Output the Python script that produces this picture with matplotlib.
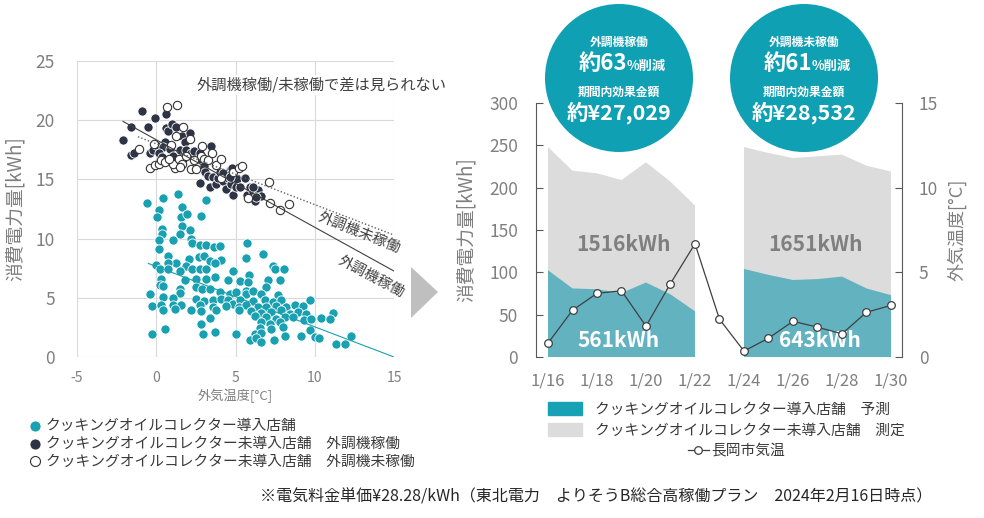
import numpy as np
import matplotlib
matplotlib.use('Agg')
import matplotlib.pyplot as plt
from matplotlib.patches import Circle, Polygon, Patch

plt.rcParams['font.family'] = ['Noto Sans CJK JP', 'DejaVu Sans']
plt.rcParams['axes.unicode_minus'] = False

# --- left: daily consumption [kWh] vs outdoor temperature [C] ---
teal_pts = [
    (-0.58, 13.0), (0.43, 13.45), (1.39, 13.75), (3.16, 13.3), (0.17, 12.45), (1.65, 12.7),
    (0.05, 11.8), (1.58, 11.8), (1.94, 12.1), (2.84, 11.9), (0.36, 10.85), (1.65, 11.1),
    (0.36, 10.4), (1.48, 10.4), (2.15, 10.7), (0.17, 9.9), (1.06, 9.85), (2.21, 10.0),
    (2.28, 9.6), (2.74, 9.5), (3.16, 9.5), (3.64, 9.3), (4.0, 9.4), (5.72, 9.65),
    (0.17, 9.15), (6.73, 8.67), (5.68, 8.4), (0.74, 8.5), (1.27, 7.95), (2.07, 8.3),
    (2.7, 8.45), (3.0, 8.5), (3.37, 8.15), (4.1, 8.2), (3.68, 7.9), (0.0, 7.8),
    (0.74, 7.9), (0.22, 7.4), (0.74, 7.45), (1.9, 7.65), (2.28, 7.45), (2.74, 7.4),
    (3.16, 7.45), (1.48, 7.3), (4.84, 7.25), (7.37, 7.65), (7.48, 7.45), (8.04, 7.45),
    (5.85, 6.9), (7.8, 6.5), (0.32, 6.6), (1.79, 6.5), (2.53, 6.6), (3.16, 6.55),
    (3.68, 6.75), (4.53, 6.5), (5.26, 6.4), (5.79, 6.35), (7.05, 6.5), (0.22, 6.05),
    (0.43, 5.97), (2.53, 5.9), (2.9, 5.77), (3.37, 5.77), (1.48, 5.77), (6.94, 5.9),
    (5.68, 5.6), (-0.37, 5.35), (1.48, 5.4), (4.0, 5.5), (4.63, 5.35), (5.05, 5.5),
    (5.68, 5.35), (6.1, 5.57), (6.62, 5.3), (7.67, 5.2), (0.43, 5.07), (1.06, 5.0),
    (2.53, 4.93), (3.0, 4.73), (3.58, 4.84), (4.1, 4.93), (4.53, 4.78), (4.84, 4.5),
    (5.26, 4.78), (6.1, 4.73), (6.84, 4.78), (7.37, 4.65), (7.9, 4.78), (9.68, 4.78),
    (-0.25, 4.28), (0.32, 4.36), (1.06, 4.36), (1.58, 4.42), (2.74, 4.36), (3.58, 4.22),
    (4.42, 4.28), (5.22, 4.22), (5.68, 4.36), (6.42, 4.22), (6.94, 4.22), (7.58, 4.28),
    (8.2, 4.22), (8.73, 4.36), (9.26, 4.28), (0.43, 3.94), (1.16, 4.08), (2.21, 4.0),
    (2.84, 3.89), (3.79, 3.94), (5.22, 4.0), (6.0, 3.89), (6.64, 3.72), (7.26, 3.8),
    (7.9, 3.94), (8.42, 3.66), (8.94, 3.8), (9.47, 3.66), (11.15, 3.72), (6.2, 3.43),
    (6.94, 3.38), (7.58, 3.24), (8.1, 3.38), (8.63, 3.38), (9.3, 3.1), (9.78, 3.24),
    (10.4, 3.32), (10.95, 3.24), (3.37, 3.32), (6.64, 2.96), (7.16, 2.82), (7.79, 2.96),
    (2.84, 2.82), (6.52, 2.48), (7.26, 2.39), (7.99, 2.53), (0.53, 2.39), (9.68, 2.25),
    (2.95, 1.97), (3.73, 2.11), (5.05, 1.91), (6.2, 1.91), (6.62, 2.03), (8.1, 1.75),
    (9.15, 1.75), (10.04, 1.69), (12.3, 1.75), (-0.25, 1.91), (5.9, 1.46), (6.31, 1.63),
    (6.62, 1.27), (7.4, 1.41), (10.27, 1.6), (11.36, 1.07), (11.93, 1.07),
]
dark_pts = [
    (-2.1, 18.36), (-1.6, 19.4), (-1.57, 17.1), (-1.43, 17.2), (-0.9, 20.75), (-0.52, 19.4),
    (-0.1, 20.2), (-0.37, 17.2), (-0.2, 17.45), (0.0, 17.9), (0.6, 20.55), (0.64, 19.3),
    (0.74, 19.1), (1.0, 19.7), (1.27, 19.4), (0.57, 18.2), (0.4, 17.7), (0.2, 17.2),
    (0.38, 16.9), (0.85, 17.6), (1.06, 17.0), (1.48, 17.45), (1.65, 18.7), (1.81, 18.2),
    (2.15, 18.9), (1.9, 17.5), (1.7, 16.75), (2.2, 17.2), (2.4, 17.4), (2.74, 17.2),
    (2.84, 16.7), (2.74, 14.7), (2.99, 16.1), (3.05, 15.6), (3.26, 15.3), (3.37, 14.4),
    (3.48, 17.8), (3.6, 15.2), (3.75, 14.6), (3.9, 15.1), (4.04, 15.6), (4.2, 14.9),
    (4.38, 14.2), (4.5, 15.1), (4.63, 15.8), (4.74, 14.6), (4.78, 16.0), (4.84, 13.65),
    (5.0, 14.4), (5.1, 15.0), (5.26, 14.4), (5.58, 15.15), (5.7, 13.65), (5.94, 14.35),
    (6.1, 13.9), (6.2, 13.2), (6.4, 14.1), (6.63, 13.6), (6.3, 13.5), (6.1, 14.4),
    (4.2, 15.5), (4.63, 15.2),
]
open_pts = [
    (-1.1, 17.6), (-0.37, 16.0), (-0.1, 16.2), (0.17, 16.3), (-0.15, 18.0), (0.3, 16.6),
    (0.53, 16.5), (0.67, 21.1), (1.3, 21.3), (1.27, 18.7), (1.16, 16.0), (1.06, 16.3),
    (1.43, 16.75), (1.7, 19.4), (1.65, 16.3), (2.1, 18.4), (2.2, 15.9), (2.53, 15.9),
    (2.84, 17.0), (2.9, 17.8), (3.0, 16.75), (3.26, 16.6), (3.54, 17.2), (3.75, 16.2),
    (4.06, 16.75), (4.1, 15.15), (4.84, 15.6), (5.22, 16.0), (5.43, 16.1), (5.8, 13.4),
    (7.1, 14.8), (7.15, 13.0), (7.8, 12.4), (8.4, 12.95), (0.95, 17.9), (1.9, 17.0),
    (2.4, 16.6), (1.5, 16.05), (0.8, 16.75),
]
# linear trend lines, end points
trend_on_x, trend_on_y = [-2.1, 15], [19.9, 7.26]
trend_off_x, trend_off_y = [-1.15, 15], [18.6, 10.3]
trend_teal_x, trend_teal_y = [-0.5, 15], [7.9, 0.0]

# --- right: daily kWh and temperature ---
days = ['1/16', '1/17', '1/18', '1/19', '1/20', '1/21', '1/22', '1/23',
        '1/24', '1/25', '1/26', '1/27', '1/28', '1/29', '1/30']
measured = [248, 220, 217, 209, 230, 207, 179, np.nan, 248, 241, 235, 237, 239, 226, 219]
predicted = [102.5, 81, 80, 75.5, 88, 74, 54, np.nan, 104, 97, 91, 92, 95, 81, 73]
temp = [0.82, 2.76, 3.76, 3.91, 1.82, 4.34, 6.69, 2.23, 0.35, 1.11, 2.11, 1.76, 1.37, 2.64, 3.05]

teal = '#19a0b1'
grey_txt = '#7f7f7f'
W, H = 984, 518


def box(l, t, r, b):
    return [l / W, 1 - b / H, (r - l) / W, (b - t) / H]


fig = plt.figure(figsize=(W / 100, H / 100), dpi=100)

# ---------------- scatter ----------------
ax1 = fig.add_axes(box(77, 61, 394, 357))
tx, ty = np.array(teal_pts).T
dx, dy = np.array(dark_pts).T
ox, oy = np.array(open_pts).T
h1 = ax1.scatter(tx, ty, s=44, color=teal, edgecolors='white', linewidths=0.6, zorder=3,
                 label='クッキングオイルコレクター導入店舗')
h2 = ax1.scatter(dx, dy, s=44, color='#2e3445', edgecolors='white', linewidths=0.6, zorder=3,
                 label='クッキングオイルコレクター未導入店舗　外調機稼働')
h3 = ax1.scatter(ox, oy, s=36, facecolors='white', edgecolors='#333333', linewidths=0.8, zorder=4,
                 label='クッキングオイルコレクター未導入店舗　外調機未稼働')
ax1.plot(trend_on_x, trend_on_y, color='#404040', lw=0.8, zorder=5)
ax1.plot(trend_off_x, trend_off_y, color='#606060', lw=1.0, ls=(0, (1, 1.5)), zorder=5)
ax1.plot(trend_teal_x, trend_teal_y, color=teal, lw=0.8, zorder=5)

ax1.set_xlim(-5, 15)
ax1.set_ylim(0, 25)
ax1.set_xticks([-5, 0, 5, 10, 15])
ax1.set_yticks([0, 5, 10, 15, 20, 25])
ax1.grid(color='#d9d9d9', lw=0.8)
ax1.set_axisbelow(True)
for s in ax1.spines.values():
    s.set_visible(False)
ax1.tick_params(length=0, colors=grey_txt)
ax1.tick_params(axis='y', labelsize=12.5, pad=16)
ax1.tick_params(axis='x', labelsize=10, pad=10)
ax1.set_xlabel('外気温度[°C]', fontsize=9.5, color=grey_txt, va='center')
ax1.xaxis.set_label_coords(0.5, -(396 - 357) / 296)
ax1.set_ylabel('消費電力量[kWh]', fontsize=13.5, color=grey_txt, va='center')
ax1.yaxis.set_label_coords(-(77 - 15) / 317, 0.5)

ax1.text(10.46, 23.0, '外調機稼働/未稼働で差は見られない', ha='center', va='center', fontsize=11,
         color='#404040', clip_on=False, zorder=6,
         bbox=dict(facecolor='white', edgecolor='none', pad=1))
ax1.text(12.8, 10.5, '外調機未稼働', ha='center', va='center', rotation=-22, fontsize=10.5,
         color='#404040', clip_on=False)
ax1.text(13.55, 6.75, '外調機稼働', ha='center', va='center', rotation=-28, fontsize=10.5,
         color='#404040', clip_on=False)

# ---------------- area + temperature ----------------
ax2 = fig.add_axes(box(536, 103, 902, 357))
x = np.arange(len(days))
ax2.fill_between(x, 0, measured, color='#dcdcdc', lw=0)
ax2.fill_between(x, 0, predicted, color='#62b2c0', lw=0)
ax2.set_xlim(-0.49, 14.45)
ax2.set_ylim(0, 300)
ax2.set_xticks(x[::2])
ax2.set_xticklabels(days[::2])
ax2.set_yticks(range(0, 301, 50))
ax2.tick_params(axis='x', length=0, labelsize=12, labelcolor=grey_txt, pad=11)
ax2.tick_params(axis='y', direction='in', length=5, color='#595959', labelsize=12.5,
                labelcolor=grey_txt, pad=13)
ax2.set_ylabel('消費電力量[kWh]', fontsize=13.5, color=grey_txt, va='center')
ax2.yaxis.set_label_coords(-(536 - 466) / 366, 0.5)
for k in ['top', 'bottom', 'right']:
    ax2.spines[k].set_visible(False)
ax2.spines['left'].set_color('#595959')

ax2.text(3.1, 133, '1516kWh', ha='center', va='center', fontsize=15, fontweight='bold', color=grey_txt)
ax2.text(10.9, 133, '1651kWh', ha='center', va='center', fontsize=15, fontweight='bold', color=grey_txt)
ax2.text(2.86, 20, '561kWh', ha='center', va='center', fontsize=15, fontweight='bold', color='white')
ax2.text(11.1, 20, '643kWh', ha='center', va='center', fontsize=15, fontweight='bold', color='white')

ax3 = ax2.twinx()
line, = ax3.plot(x, temp, color='#404040', lw=0.9, marker='o', ms=5.5, mfc='white',
                 mec='#404040', mew=0.9)
ax3.set_ylim(0, 15)
ax3.set_yticks([0, 5, 10, 15])
ax3.tick_params(axis='y', direction='in', length=5, color='#595959', labelsize=12.5,
                labelcolor=grey_txt, pad=12)
ax3.set_ylabel('外気温度[°C]', fontsize=13, color=grey_txt, va='center')
ax3.yaxis.set_label_coords((957 - 536) / 366, 0.5)
for k in ['top', 'bottom', 'left']:
    ax3.spines[k].set_visible(False)
ax3.spines['right'].set_color('#595959')

# ---------------- overlay: badges, arrow, notes ----------------
ov = fig.add_axes([0, 0, 1, 1])
ov.set_xlim(0, W)
ov.set_ylim(H, 0)
ov.axis('off')
ov.add_patch(Polygon([(411, 267), (411, 318), (438, 292)], closed=True, color='#bfbfbf', lw=0))

badges = [('外調機稼働', '約63', '約¥27,029', 619), ('外調機未稼働', '約61', '約¥28,532', 804)]
for head, pct, yen, cx in badges:
    ov.add_patch(Circle((cx, 78), 74, color='#10a0b4', lw=0))
    ov.text(cx, 42, head, ha='center', va='center', fontsize=8.5, fontweight='bold', color='white')
    ov.text(cx + 8, 70, pct, ha='right', va='baseline', fontsize=16, fontweight='bold', color='white')
    ov.text(cx + 8, 70, '%削減', ha='left', va='baseline', fontsize=9.5, fontweight='bold', color='white')
    ov.text(cx, 92, '期間内効果金額', ha='center', va='center', fontsize=8.5, fontweight='bold', color='white')
    ov.text(cx, 113, yen, ha='center', va='center', fontsize=15.5, fontweight='bold', color='white')

ov.text(596, 497, '※電気料金単価¥28.28/kWh（東北電力　よりそうB総合高稼働プラン　2024年2月16日時点）',
        ha='center', va='center', fontsize=11.5, color='#262626')

fig.legend(handles=[h1, h2, h3], loc='upper left', bbox_to_anchor=(29 / W, 1 - 419 / H),
           frameon=False, fontsize=10.6, handlelength=0.8, handletextpad=0.35, labelspacing=0.25,
           borderpad=0, borderaxespad=0, markerscale=1.2, scatterpoints=1, labelcolor='#3a3a3a')
fig.legend(handles=[Patch(color='#17a1b5', label='クッキングオイルコレクター導入店舗　予測'),
                    Patch(color='#dcdcdc', label='クッキングオイルコレクター未導入店舗　測定')],
           loc='upper left', bbox_to_anchor=(548 / W, 1 - 402 / H), frameon=False, fontsize=10.6,
           handlelength=2.3, handleheight=1.0, handletextpad=0.9, labelspacing=0.45,
           borderpad=0, borderaxespad=0, labelcolor='#3a3a3a')
fig.legend(handles=[line], labels=['長岡市気温'], loc='upper left', bbox_to_anchor=(688 / W, 1 - 444 / H),
           frameon=False, fontsize=10.6, handlelength=1.4, handletextpad=0.2, borderpad=0,
           borderaxespad=0, labelcolor='#3a3a3a')

fig.savefig('out.png', dpi=100)
